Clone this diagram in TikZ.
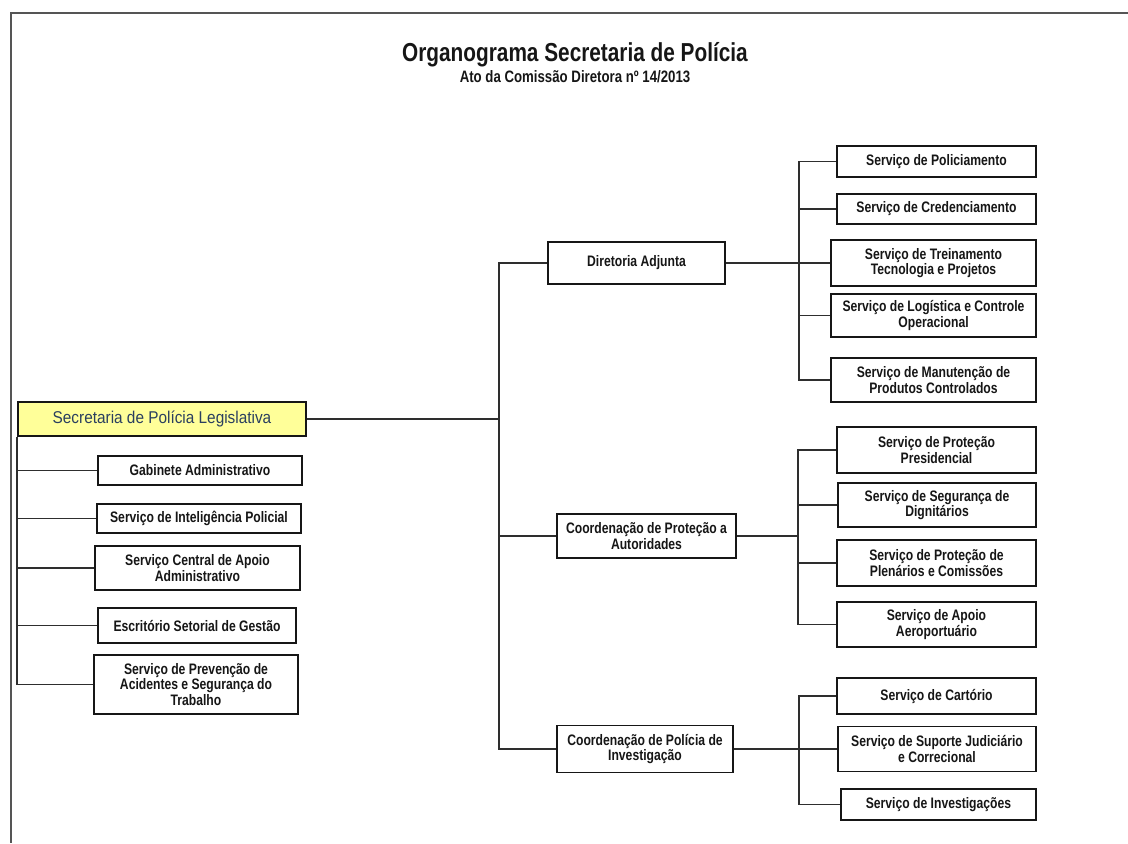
\documentclass[tikz,border=0pt]{standalone}
\usepackage{fontspec}
\setmainfont{Liberation Sans}
\newfontfamily\orgfont{Liberation Sans}[FakeStretch=0.8]
\newfontfamily\headfont{Liberation Sans}[FakeStretch=0.9]
\usepackage{tikz}
\usetikzlibrary{positioning}
\usepackage{xcolor}
\definecolor{ink}{HTML}{161616}
\definecolor{rule}{HTML}{2E2E2E}
\definecolor{frameline}{HTML}{555555}
\definecolor{rootfill}{HTML}{FFFF99}
\definecolor{roottext}{HTML}{2A3F5F}
\newcommand{\unitfont}{\orgfont\bfseries\fontsize{11.4}{11.6}\selectfont}
\tikzset{
  every node/.style={text=ink},
  unit/.style={draw=ink,line width=1.2pt,fill=white,align=center,inner sep=2pt,font=\unitfont},
  rootbox/.style={unit,fill=rootfill,text=roottext,font=\headfont\fontsize{12.8}{13}\selectfont},
  title/.style={font=\orgfont\bfseries\fontsize{19.5}{20}\selectfont,inner sep=0pt},
  subtitle/.style={font=\orgfont\bfseries\fontsize{12.4}{13}\selectfont,inner sep=0pt},
  link/.style={draw=rule,line width=1.3pt},
  frame/.style={draw=frameline,line width=1.6pt},
}

\begin{document}
\begin{tikzpicture}[x=0.75pt,y=-0.75pt]
\useasboundingbox (0,0) rectangle (1128,843);

% page frame
\draw[frame] (1128,13) -- (11,13) -- (11,843);

\node[title,anchor=base] (title) at (575,61.5) {Organograma Secretaria de Polícia};
\node[subtitle,anchor=base] (act) at (575,82) {Ato da Comissão Diretora nº 14/2013};

% secretaria and its own services
\node[rootbox,minimum width=216pt,minimum height=25.5pt] (root) at (162,419) {Secretaria de Polícia Legislativa};
\node[unit,minimum width=153pt,minimum height=21.75pt] (gab) at (200,470.5) {Gabinete Administrativo};
\node[unit,minimum width=153pt,minimum height=21.75pt] (intel) at (199,518.5) {Serviço de Inteligência Policial};
\node[unit,minimum width=153.75pt,minimum height=33pt] (central) at (197.5,568) {Serviço Central de Apoio\\Administrativo};
\node[unit,minimum width=148.5pt,minimum height=26.25pt] (escr) at (197,625.5) {Escritório Setorial de Gestão};
\node[unit,minimum width=153pt,minimum height=44.25pt] (prev) at (196,684.5) {Serviço de Prevenção de\\Acidentes e Segurança do\\Trabalho};

\draw[link] (root.south west) |- (gab.west);
\draw[link] (root.south west) |- (intel.west);
\draw[link] (root.south west) |- (central.west);
\draw[link] (root.south west) |- (escr.west);
\draw[link] (root.south west) |- (prev.west);

% second level
\node[unit,minimum width=132.75pt,minimum height=31.5pt] (adj) at (636.5,263) {Diretoria Adjunta};
\node[unit,minimum width=134.25pt,minimum height=33pt] (cpa) at (646.5,536) {Coordenação de Proteção a\\Autoridades};
\node[unit,minimum width=132pt,minimum height=35.25pt] (cpi) at (645,749) {Coordenação de Polícia de\\Investigação};

\coordinate (trunk) at (499,419);
\draw[link] (root.east) -- (trunk);
\draw[link] (trunk) |- (adj.west);
\draw[link] (trunk) |- (cpa.west);
\draw[link] (trunk) |- (cpi.west);

% diretoria adjunta
\node[unit,minimum width=149.25pt,minimum height=23.25pt] (polic) at (936.5,161.5) {Serviço de Policiamento};
\node[unit,minimum width=149.25pt,minimum height=22.5pt] (cred) at (936.5,209) {Serviço de Credenciamento};
\node[unit,minimum width=153.75pt,minimum height=34.5pt] (trein) at (933.5,263) {Serviço de Treinamento\\Tecnologia e Projetos};
\node[unit,minimum width=153.75pt,minimum height=32.25pt] (logi) at (933.5,315.5) {Serviço de Logística e Controle\\Operacional};
\node[unit,minimum width=153.75pt,minimum height=33pt] (manut) at (933.5,380) {Serviço de Manutenção de\\Produtos Controlados};

\draw[link] (adj.east) -- ++(73,0) coordinate (hubadj);
\draw[link] (hubadj) |- (polic.west);
\draw[link] (hubadj) |- (cred.west);
\draw[link] (hubadj) |- (trein.west);
\draw[link] (hubadj) |- (logi.west);
\draw[link] (hubadj) |- (manut.west);

% protecao a autoridades
\node[unit,minimum width=149.25pt,minimum height=34.5pt] (presid) at (936.5,450) {Serviço de Proteção\\Presidencial};
\node[unit,minimum width=148.5pt,minimum height=33pt] (dign) at (937,505) {Serviço de Segurança de\\Dignitários};
\node[unit,minimum width=149.25pt,minimum height=34.5pt] (plen) at (936.5,563) {Serviço de Proteção de\\Plenários e Comissões};
\node[unit,minimum width=149.25pt,minimum height=33.75pt] (aero) at (936.5,624.5) {Serviço de Apoio\\Aeroportuário};

\draw[link] (cpa.east) -- ++(61,0) coordinate (hubcpa);
\draw[link] (hubcpa) |- (presid.west);
\draw[link] (hubcpa) |- (dign.west);
\draw[link] (hubcpa) |- (plen.west);
\draw[link] (hubcpa) |- (aero.west);

% policia de investigacao
\node[unit,minimum width=149.25pt,minimum height=27pt] (cart) at (936.5,696) {Serviço de Cartório};
\node[unit,minimum width=148.5pt,minimum height=33.75pt] (suporte) at (937,749) {Serviço de Suporte Judiciário\\e Correcional};
\node[unit,minimum width=146.25pt,minimum height=23.25pt] (invest) at (938.5,804.5) {Serviço de Investigações};

\draw[link] (cpi.east) -- ++(65,0) coordinate (hubcpi);
\draw[link] (hubcpi) |- (cart.west);
\draw[link] (hubcpi) |- (suporte.west);
\draw[link] (hubcpi) |- (invest.west);

\end{tikzpicture}
\end{document}
